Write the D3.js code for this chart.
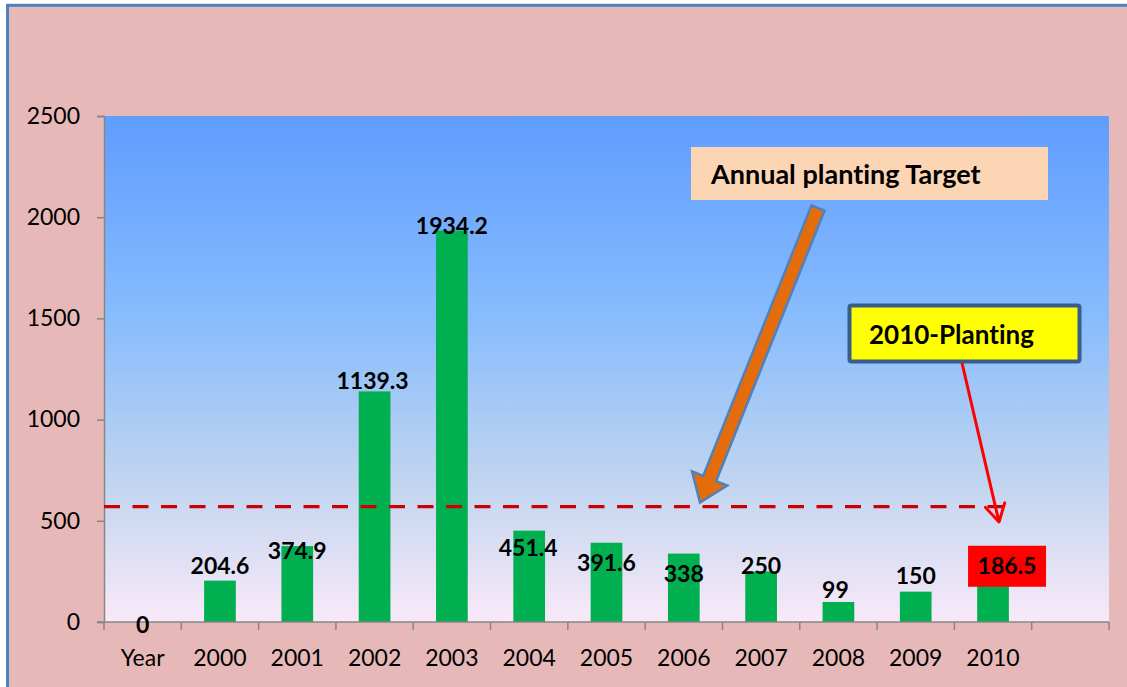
<!DOCTYPE html>
<html>
<head>
<meta charset="utf-8">
<script src="https://cdn.jsdelivr.net/npm/d3@7/dist/d3.min.js"></script>
<style>
  html, body { margin: 0; padding: 0; background: #ffffff; }
  svg { display: block; font-family: Lato, "Open Sans", sans-serif; font-variant-ligatures: none; }
</style>
</head>
<body>
<svg id="chart" width="1127" height="687"></svg>
<script>
// ---- data ----
const categories = ["Year", "2000", "2001", "2002", "2003", "2004", "2005", "2006", "2007", "2008", "2009", "2010", ""];
const planted = [0, 204.6, 374.9, 1139.3, 1934.2, 451.4, 391.6, 338, 250, 99, 150, 186.5, null];
const yTicks = [0, 500, 1000, 1500, 2000, 2500];
const annualTarget = 570;
const targetLabel = "Annual planting Target";
const highlightLabel = "2010-Planting";

// ---- layout ----
const W = 1127, H = 687;
const plot = { left: 104, right: 1109, top: 116, bottom: 622 };
// vertical nudge (px) of each value label's centre relative to its bar top
const labelDy = [3, -15, 5, -10, -5, 17, 20, 20, -5, -12, -16, -18, 0];
const labelDx = [0, 0, 0, -2, 0, -1, 0, 0, 0, -3, 0, 14, 0];

const svg = d3.select("#chart");
const defs = svg.append("defs");

const grad = defs.append("linearGradient")
  .attr("id", "plotFill").attr("x1", 0).attr("y1", 0).attr("x2", 0).attr("y2", 1);
grad.append("stop").attr("offset", "0%").attr("stop-color", "#5f9dff");
grad.append("stop").attr("offset", "40%").attr("stop-color", "#88bcfd");
grad.append("stop").attr("offset", "70%").attr("stop-color", "#bcd3ef");
grad.append("stop").attr("offset", "100%").attr("stop-color", "#f9e9f8");

// chart frame
svg.append("rect").attr("x", 0).attr("y", 0).attr("width", W).attr("height", H).attr("fill", "#ffffff");
svg.append("rect")
  .attr("x", 7.5).attr("y", 5.3).attr("width", W + 20).attr("height", H + 20)
  .attr("fill", "#e6b8b7").attr("stroke", "#4f81bd").attr("stroke-width", 3);

// scales
const x = d3.scaleBand().domain(categories)
  .range([plot.left, plot.right]).paddingInner(0.59).paddingOuter(0.295);
const slot = d3.scaleLinear().domain([0, categories.length]).range([plot.left, plot.right]);
const y = d3.scaleLinear().domain([0, 2500]).range([plot.bottom, plot.top]);

// plot area
svg.append("rect")
  .attr("x", plot.left).attr("y", plot.top)
  .attr("width", plot.right - plot.left).attr("height", plot.bottom - plot.top)
  .attr("fill", "url(#plotFill)");

// bars
const rows = categories.map((c, i) => ({ cat: c, v: planted[i], i }));
svg.append("g").selectAll("rect")
  .data(rows.filter(d => d.v !== null && d.v > 0))
  .join("rect")
  .attr("x", d => x(d.cat)).attr("width", x.bandwidth())
  .attr("y", d => y(d.v)).attr("height", d => y(0) - y(d.v))
  .attr("fill", "#00b050");

// y axis
const yAxis = svg.append("g")
  .attr("transform", `translate(${plot.left},0)`)
  .call(d3.axisLeft(y).tickValues(yTicks).tickSize(7).tickPadding(17).tickFormat(d3.format("d")));
yAxis.select(".domain").attr("stroke", "#868686").attr("stroke-width", 1.5);
yAxis.selectAll(".tick line").attr("stroke", "#868686").attr("stroke-width", 1.5);
yAxis.selectAll(".tick text").attr("font-size", 23).attr("fill", "#000").attr("font-family", "Lato");

// x axis: line, boundary ticks, category labels
const xg = svg.append("g");
xg.append("line")
  .attr("x1", plot.left - 7).attr("x2", plot.right)
  .attr("y1", y(0)).attr("y2", y(0))
  .attr("stroke", "#868686").attr("stroke-width", 1.5);
xg.selectAll("line.tk")
  .data(d3.range(categories.length + 1))
  .join("line").attr("class", "tk")
  .attr("x1", d => slot(d)).attr("x2", d => slot(d))
  .attr("y1", y(0)).attr("y2", y(0) + 8)
  .attr("stroke", "#868686").attr("stroke-width", 1.5);
xg.selectAll("text")
  .data(categories)
  .join("text")
  .attr("x", d => x(d) + x.bandwidth() / 2)
  .attr("y", y(0) + 36)
  .attr("dy", "0.35em")
  .attr("text-anchor", "middle")
  .attr("font-size", 23).attr("fill", "#000")
  .text(d => d);

// target line
svg.append("line")
  .attr("x1", plot.left).attr("x2", 1012)
  .attr("y1", y(annualTarget)).attr("y2", y(annualTarget))
  .attr("stroke", "#cc0000").attr("stroke-width", 3.2)
  .attr("stroke-dasharray", "16,12.5");

// value labels
const labelRows = rows.filter(d => d.v !== null);
const labels = svg.append("g");
labels.selectAll("rect")
  .data(labelRows.filter(d => d.cat === "2010"))
  .join("rect")
  .attr("x", d => x(d.cat) + x.bandwidth() / 2 + labelDx[d.i] - 39)
  .attr("y", d => y(d.v) + labelDy[d.i] - 20.5)
  .attr("width", 78).attr("height", 41)
  .attr("fill", "#ff0000");
labels.selectAll("text")
  .data(labelRows)
  .join("text")
  .attr("x", d => x(d.cat) + x.bandwidth() / 2 + labelDx[d.i])
  .attr("y", d => y(d.v) + labelDy[d.i])
  .attr("dy", "0.35em")
  .attr("text-anchor", "middle")
  .attr("font-size", 23).attr("font-weight", "bold").attr("fill", "#000")
  .text(d => d3.format("")(d.v));

// callout: annual planting target
svg.append("rect")
  .attr("x", 691).attr("y", 147).attr("width", 357).attr("height", 53)
  .attr("fill", "#fcd5b4");
svg.append("text")
  .attr("x", 711).attr("y", 175).attr("dy", "0.35em")
  .attr("font-size", 27).attr("font-weight", "bold").attr("fill", "#000")
  .text(targetLabel);

// block arrow pointing down to the target line
(function () {
  const s = [818, 208], t = [700, y(annualTarget) - 4];
  const dx = t[0] - s[0], dy = t[1] - s[1], L = Math.hypot(dx, dy);
  const u = [dx / L, dy / L], n = [-u[1], u[0]];
  const sw = 7, hw = 19, hl = 26;
  const b = [t[0] - u[0] * hl, t[1] - u[1] * hl];
  const p = (c, k) => [c[0] + n[0] * k, c[1] + n[1] * k];
  const pts = [p(s, sw), p(b, sw), p(b, hw), t, p(b, -hw), p(b, -sw), p(s, -sw)];
  svg.append("path")
    .attr("d", d3.line()(pts) + "Z")
    .attr("fill", "#e46c0a").attr("stroke", "#4f81bd").attr("stroke-width", 2.5)
    .attr("stroke-linejoin", "miter");
})();

// callout: 2010 planting
svg.append("rect")
  .attr("x", 849.5).attr("y", 305.5).attr("width", 230).attr("height", 56).attr("rx", 2)
  .attr("fill", "#ffff00").attr("stroke", "#385d8a").attr("stroke-width", 4);
svg.append("text")
  .attr("x", 869).attr("y", 335).attr("dy", "0.35em")
  .attr("font-size", 26).attr("font-weight", "bold").attr("fill", "#000")
  .text(highlightLabel);

// thin red pointer to the 2010 bar
(function () {
  const s = [962, 363], t = [999, 522];
  const ang = Math.atan2(t[1] - s[1], t[0] - s[0]);
  const len = 20, spread = 0.52;
  const a1 = [t[0] - len * Math.cos(ang - spread), t[1] - len * Math.sin(ang - spread)];
  const a2 = [t[0] - len * Math.cos(ang + spread), t[1] - len * Math.sin(ang + spread)];
  svg.append("path").attr("d", d3.line()([s, t]))
    .attr("stroke", "#ff0000").attr("stroke-width", 3).attr("fill", "none");
  svg.append("path").attr("d", d3.line()([a1, t, a2]))
    .attr("stroke", "#ff0000").attr("stroke-width", 3).attr("fill", "none")
    .attr("stroke-linecap", "round").attr("stroke-linejoin", "round");
})();
</script>
</body>
</html>
